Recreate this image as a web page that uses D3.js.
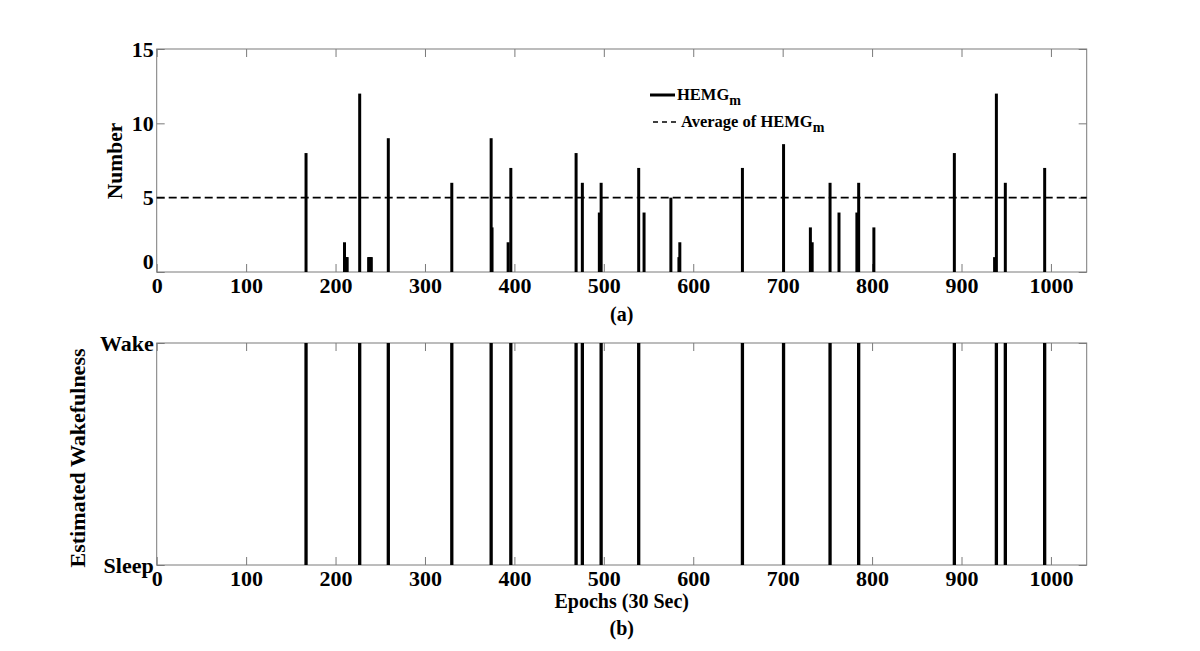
<!DOCTYPE html>
<html>
<head>
<meta charset="utf-8">
<script src="https://cdn.jsdelivr.net/npm/d3@7.9.0/dist/d3.min.js"></script>
<style>
  body { margin: 0; background: #fff; }
  text { font-family: "Liberation Serif", "Times New Roman", serif; font-weight: bold; fill: #000; }
</style>
</head>
<body>
<svg id="chart" width="1200" height="651"></svg>
<script>
// HEMG_m count per epoch (only non-zero epochs listed)
const epochs = [167, 210, 212, 213, 227, 237, 238, 239, 240, 259,
                330, 374, 375, 393, 396, 469, 476, 495, 497, 539,
                545, 575, 584, 585, 655, 701, 731, 733, 753, 763,
                783, 785, 802, 892, 937, 939, 949, 993];
const counts = [8, 2, 1, 1, 12, 1, 1, 1, 1, 9,
                6, 9, 3, 2, 7, 8, 6, 4, 6, 7,
                4, 5, 1, 2, 7, 8.6, 3, 2, 6, 4,
                4, 6, 3, 8, 1, 12, 6, 7];
const averageCount = 5;

// epochs estimated as "Wake"
const wakeEpochs = [167, 227, 259, 330, 374, 396, 469, 476, 497, 539,
                    655, 701, 753, 785, 892, 939, 949, 993];

const xTicks = [0, 100, 200, 300, 400, 500, 600, 700, 800, 900, 1000];
const yTicks = [0, 5, 10, 15];
const states = ['Sleep', 'Wake'];

const svg = d3.select('#chart');

const left = 156.7, right = 1086.7;
const panelA = { top: 49, bottom: 272 };
const panelB = { top: 343, bottom: 565 };

const x = d3.scaleLinear().domain([0, 1040]).range([left, right]);
const y = d3.scaleLinear().domain([0, 15]).range([panelA.bottom, panelA.top]);
const yState = d3.scalePoint().domain(states).range([panelB.bottom, panelB.top]);

const tickColor = '#7a7a7a';
const serif = '"Liberation Serif", "Times New Roman", serif';

function styleAxis(g, hideText) {
    g.attr('font-family', serif);
    g.select('.domain').remove();
    g.selectAll('.tick line').attr('stroke', tickColor).attr('stroke-width', 1);
    g.selectAll('.tick text')
        .attr('font-family', serif)
        .attr('font-weight', 'bold')
        .style('font-size', '22px');
    if (hideText) g.selectAll('.tick text').remove();
}

function drawFrame(panel, yAxisScale, yTickVals) {
    // bottom axis with labels
    svg.append('g')
        .attr('transform', `translate(0,${panel.bottom})`)
        .call(d3.axisBottom(x).tickValues(xTicks).tickFormat(d3.format('d')).tickSize(-8).tickPadding(5))
        .call(g => styleAxis(g, false));
    // top axis (ticks only)
    svg.append('g')
        .attr('transform', `translate(0,${panel.top})`)
        .call(d3.axisTop(x).tickValues(xTicks).tickSize(-8))
        .call(g => styleAxis(g, true));
    // left axis
    const la = d3.axisLeft(yAxisScale).tickSize(-8).tickPadding(3);
    if (yTickVals) la.tickValues(yTickVals);
    const lg = svg.append('g')
        .attr('transform', `translate(${left},0)`)
        .call(la)
        .call(g => styleAxis(g, false));
    // right axis (ticks only)
    const ra = d3.axisRight(yAxisScale).tickSize(-8);
    if (yTickVals) ra.tickValues(yTickVals);
    svg.append('g')
        .attr('transform', `translate(${right},0)`)
        .call(ra)
        .call(g => styleAxis(g, true));
    // box
    svg.append('rect')
        .attr('x', left).attr('y', panel.top)
        .attr('width', right - left).attr('height', panel.bottom - panel.top)
        .attr('fill', 'none').attr('stroke', tickColor).attr('stroke-width', 1);
    return lg;
}

// ---------- panel (a) ----------
const leftA = drawFrame(panelA, y, yTicks);
// nudge the "0" label up like the original
leftA.selectAll('.tick').filter(d => d === 0).select('text').attr('dy', '-0.15em');

svg.append('line')
    .attr('x1', left).attr('x2', right)
    .attr('y1', y(averageCount)).attr('y2', y(averageCount))
    .attr('stroke', '#000').attr('stroke-width', 1.8)
    .attr('stroke-dasharray', '8,4');

svg.append('g').selectAll('line')
    .data(epochs.map((e, i) => ({ e, v: counts[i] })))
    .join('line')
    .attr('x1', d => x(d.e)).attr('x2', d => x(d.e))
    .attr('y1', y(0)).attr('y2', d => y(d.v))
    .attr('stroke', '#000').attr('stroke-width', 3);

svg.append('text')
    .attr('transform', 'translate(122,161) rotate(-90)')
    .attr('text-anchor', 'middle')
    .style('font-size', '21.5px')
    .text('Number');

svg.append('text')
    .attr('x', (left + right) / 2).attr('y', 321)
    .attr('text-anchor', 'middle')
    .style('font-size', '20px')
    .text('(a)');

// legend
const legend = svg.append('g');
legend.append('line')
    .attr('x1', 650).attr('x2', 675).attr('y1', 95).attr('y2', 95)
    .attr('stroke', '#000').attr('stroke-width', 3);
legend.append('text')
    .attr('x', 677).attr('y', 100)
    .style('font-size', '16.5px')
    .call(t => {
        t.append('tspan').text('HEMG');
        t.append('tspan').attr('dy', 5).style('font-size', '14px').text('m');
    });
legend.append('line')
    .attr('x1', 653).attr('x2', 678).attr('y1', 122).attr('y2', 122)
    .attr('stroke', '#000').attr('stroke-width', 1.5)
    .attr('stroke-dasharray', '5,4');
legend.append('text')
    .attr('x', 681).attr('y', 127)
    .style('font-size', '16.5px')
    .call(t => {
        t.append('tspan').text('Average of HEMG');
        t.append('tspan').attr('dy', 5).style('font-size', '14px').text('m');
    });

// ---------- panel (b) ----------
drawFrame(panelB, yState, null);

svg.append('g').selectAll('line')
    .data(wakeEpochs)
    .join('line')
    .attr('x1', d => x(d)).attr('x2', d => x(d))
    .attr('y1', yState('Sleep')).attr('y2', yState('Wake'))
    .attr('stroke', '#000').attr('stroke-width', 3.3);

svg.append('text')
    .attr('transform', 'translate(85,458) rotate(-90)')
    .attr('text-anchor', 'middle')
    .style('font-size', '22px')
    .text('Estimated Wakefulness');

svg.append('text')
    .attr('x', (left + right) / 2).attr('y', 608)
    .attr('text-anchor', 'middle')
    .style('font-size', '20px')
    .text('Epochs (30 Sec)');

svg.append('text')
    .attr('x', (left + right) / 2).attr('y', 635)
    .attr('text-anchor', 'middle')
    .style('font-size', '20px')
    .text('(b)');
</script>
</body>
</html>
